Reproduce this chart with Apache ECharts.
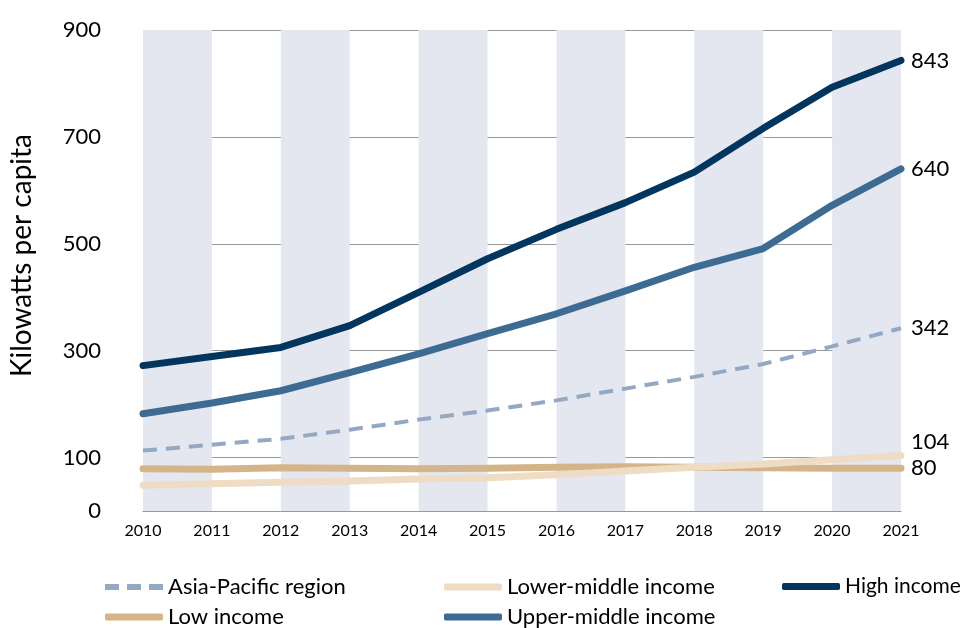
<!DOCTYPE html>
<html><head><meta charset="utf-8">
<script src="https://cdn.jsdelivr.net/npm/echarts@6/dist/echarts.min.js"></script>
<style>html,body{margin:0;padding:0;background:#fff}#c{width:968px;height:628px}</style>
</head><body><div id="c"></div>
<script>
const years = ['2010','2011','2012','2013','2014','2015','2016','2017','2018','2019','2020','2021'];
const asiaPacific = [113,124,135,152,171,188,207,229,251,275,308,342];
const lowIncome = [79,78,81,80,79,80,82,83,82,81,80,80];
const lowerMiddle = [48,51,54,56,60,62,68,75,82,88,96,104];
const upperMiddle = [182,202,225,259,294,332,369,412,456,491,572,640];
const highIncome = [272,289,306,347,409,472,527,577,634,716,793,843];
const yTickLabels = [0,100,300,500,700,900];

const FONT = 'Lato';
const chart = echarts.init(document.getElementById('c'));
function mk(name, data, color, extra) {
  return Object.assign({
    name, type: 'line', data, symbol: 'none', smooth: false,
    lineStyle: { color, width: 7, cap: 'round', join: 'round' },
    itemStyle: { color },
    endLabel: { show: true, formatter: '{c}', color: '#000', fontSize: 22, fontFamily: FONT, distance: 10 },
    emphasis: { disabled: true }
  }, extra || {});
}
const DASH_ICON = 'path://M0,0h14v6h-14z M22,0h14v6h-14z M44,0h14v6h-14z';
function lg(name, left, top, icon, fs) {
  return { left, top, itemWidth: 58, itemHeight: 7, itemGap: 0, padding: 0,
    textStyle: { fontSize: fs || 22, fontFamily: FONT, color: '#000' },
    icon: icon || 'roundRect', data: [name], selectedMode: false };
}
chart.setOption({
  animation: false,
  grid: { left: 142, right: 67, top: 30, bottom: 117 },
  xAxis: {
    type: 'category', data: years, boundaryGap: false,
    axisLine: { lineStyle: { color: '#999', width: 1 } },
    axisTick: { show: false },
    axisLabel: { color: '#000', fontSize: 16, fontFamily: FONT, margin: 12 },
    splitArea: { show: true, areaStyle: { color: ['#E4E7F0', 'rgba(255,255,255,0)'] } },
    splitLine: { show: false }
  },
  yAxis: {
    type: 'value', min: 0, max: 900, interval: 100,
    name: 'Kilowatts per capita', nameLocation: 'middle', nameGap: 107,
    nameTextStyle: { fontSize: 28, fontFamily: FONT, color: '#000', padding: [0, 0, 0, 30] },
    axisLine: { show: false }, axisTick: { show: false },
    axisLabel: { color: '#000', fontSize: 22, fontFamily: FONT, margin: 42,
      formatter: v => yTickLabels.indexOf(v) >= 0 ? String(v) : '' },
    splitLine: { show: true, lineStyle: { color: ['rgba(0,0,0,0)', '#999'], width: 1 } }
  },
  legend: [
    lg('Asia-Pacific region', 105, 576, DASH_ICON),
    lg('Low income', 105, 606),
    lg('Lower-middle income', 444, 576),
    lg('Upper-middle income', 444, 606),
    lg('High income', 782, 576, null, 21)
  ],
  series: [
    mk('Asia-Pacific region', asiaPacific, '#93A9C3', { lineStyle: { color: '#93A9C3', width: 4, type: [14, 9], cap: 'butt' } }),
    mk('Low income', lowIncome, '#D4B58A'),
    mk('Lower-middle income', lowerMiddle, '#EEDCC5', { endLabel: { show: true, formatter: '{c}', color: '#000', fontSize: 22, fontFamily: FONT, distance: 10, offset: [0, -14] } }),
    mk('Upper-middle income', upperMiddle, '#3E6B92'),
    mk('High income', highIncome, '#03365F')
  ]
});
</script></body></html>
